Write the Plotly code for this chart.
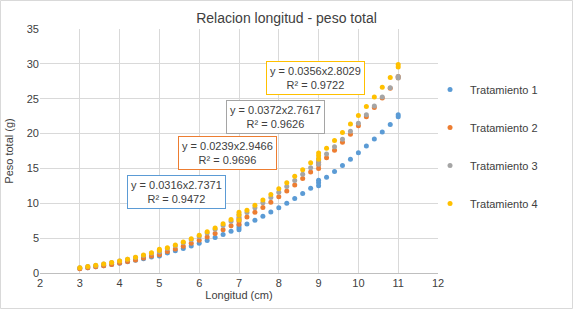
import plotly.graph_objects as go

# Longitud (cm) sampled positions
longitud = [3.0, 3.2, 3.4, 3.6, 3.8, 4.0, 4.2, 4.4, 4.6, 4.8, 5.0, 5.2, 5.4, 5.6, 5.8,
            6.0, 6.2, 6.4, 6.6, 6.8, 7.0, 7.2, 7.4, 7.6, 7.8, 8.0, 8.2, 8.4, 8.6, 8.8,
            9.0, 9.2, 9.4, 9.6, 9.8, 10.0, 10.2, 10.4, 10.6, 10.8, 11.0]

peso_t1 = [0.64, 0.76, 0.90, 1.05, 1.22, 1.41, 1.61, 1.82, 2.06, 2.31, 2.59, 2.88, 3.19, 3.53, 3.89,
           4.26, 4.66, 5.09, 5.53, 6.00, 6.50, 7.02, 7.57, 8.14, 8.74, 9.37, 10.02, 10.70, 11.42, 12.16,
           12.93, 13.73, 14.56, 15.43, 16.32, 17.25, 18.21, 19.21, 20.24, 21.30, 22.40]
peso_t2 = [0.61, 0.74, 0.88, 1.04, 1.22, 1.42, 1.64, 1.88, 2.14, 2.43, 2.74, 3.08, 3.44, 3.83, 4.25,
           4.69, 5.17, 5.67, 6.21, 6.78, 7.39, 8.03, 8.70, 9.41, 10.16, 10.95, 11.78, 12.64, 13.55, 14.50,
           15.49, 16.53, 17.61, 18.74, 19.91, 21.13, 22.41, 23.73, 25.10, 26.51, 27.99]
peso_t3 = [0.77, 0.92, 1.09, 1.28, 1.49, 1.71, 1.96, 2.23, 2.52, 2.83, 3.17, 3.53, 3.92, 4.33, 4.78,
           5.24, 5.74, 6.27, 6.82, 7.41, 8.03, 8.68, 9.36, 10.07, 10.82, 11.60, 12.42, 13.28, 14.17, 15.10,
           16.07, 17.07, 18.12, 19.20, 20.33, 21.49, 22.70, 23.95, 25.25, 26.58, 27.96]
peso_t4 = [0.77, 0.93, 1.10, 1.29, 1.50, 1.73, 1.99, 2.27, 2.57, 2.89, 3.24, 3.62, 4.02, 4.45, 4.91,
           5.40, 5.92, 6.47, 7.06, 7.67, 8.32, 9.01, 9.73, 10.48, 11.27, 12.10, 12.96, 13.87, 14.82, 15.81,
           16.83, 17.90, 19.01, 20.17, 21.37, 22.61, 23.90, 25.24, 26.63, 28.05, 29.54]

# extra measurements clustered at whole lengths
extra_x = [5.0, 7.0, 7.0, 9.0, 9.0, 11.0]
extra_t1 = [2.45, 6.2, 6.8, 12.5, 13.3, 22.7]
extra_t2 = [2.60, 7.0, 7.8, 15.0, 15.9, 28.2]
extra_t3 = [3.00, 7.6, 8.4, 15.6, 16.4, 28.2]
extra_t4 = [3.40, 7.6, 8.7, 16.3, 17.2, 29.9]

series_names = ["Tratamiento 1", "Tratamiento 2", "Tratamiento 3", "Tratamiento 4"]
series_values = [peso_t1, peso_t2, peso_t3, peso_t4]
series_extra = [extra_t1, extra_t2, extra_t3, extra_t4]
colors = ["#5b9bd5", "#ed7d31", "#a5a5a5", "#ffc000"]

equations = ["y = 0.0316x2.7371<br>R² = 0.9472",
             "y = 0.0239x2.9466<br>R² = 0.9696",
             "y = 0.0372x2.7617<br>R² = 0.9626",
             "y = 0.0356x2.8029<br>R² = 0.9722"]
eq_pos = [(5.42, 11.65), (6.72, 17.25), (7.91, 22.4), (8.93, 27.95)]

FONT = "Liberation Sans, Arial, sans-serif"
TXT = "#404040"

fig = go.Figure()
for i, name in enumerate(series_names):
    fig.add_trace(go.Scatter(
        x=longitud + extra_x, y=series_values[i] + series_extra[i],
        mode="markers", name=name, legendgroup=name,
        marker=dict(color=colors[i], size=5, line=dict(width=0)),
    ))

for i in range(4):
    fig.add_annotation(
        x=eq_pos[i][0], y=eq_pos[i][1], xref="x", yref="y",
        text=equations[i], showarrow=False, align="center",
        font=dict(family=FONT, size=11, color=TXT),
        bgcolor="white", bordercolor=colors[i], borderwidth=1, borderpad=3,
    )

fig.update_layout(
    width=573, height=309,
    margin=dict(l=40, r=135, t=29, b=36, autoexpand=False),
    paper_bgcolor="white", plot_bgcolor="white",
    font=dict(family=FONT, size=11, color=TXT),
    title=dict(text="Relacion longitud - peso total", x=0.5, xref="container", xanchor="center",
               y=1 - 18 / 309, yanchor="middle", font=dict(size=14, color=TXT),
               pad=dict(t=0, b=0)),
    showlegend=True,
    legend=dict(x=0.98, xanchor="left", y=0.811, yanchor="top",
                font=dict(size=11, color=TXT), tracegroupgap=19,
                itemsizing="trace", bgcolor="rgba(0,0,0,0)"),
    shapes=[dict(type="rect", xref="paper", yref="paper",
                 x0=(0.5 - 40) / 398, x1=(572.5 - 40) / 398,
                 y0=(273 - 308.5) / 244, y1=(273 - 0.5) / 244,
                 line=dict(color="#d9d9d9", width=1), layer="below")],
)
fig.update_xaxes(range=[2, 12], dtick=1, tick0=2, showgrid=True, gridcolor="#d9d9d9", gridwidth=1,
                 zeroline=False, showline=True, linecolor="#bfbfbf", linewidth=1, automargin=False,
                 ticks="", tickfont=dict(size=11, color=TXT),
                 title=dict(text="Longitud (cm)", font=dict(size=11, color=TXT), standoff=2))
fig.update_yaxes(range=[0, 35], dtick=5, tick0=0, showgrid=True, gridcolor="#d9d9d9", gridwidth=1,
                 zeroline=False, showline=False, ticks="", automargin=False,
                 tickfont=dict(size=11, color=TXT),
                 title=dict(text="Peso total (g)", font=dict(size=11, color=TXT), standoff=10))

fig.write_html("out.html", config={"displayModeBar": False},
               post_script="document.body.style.margin='0';")
